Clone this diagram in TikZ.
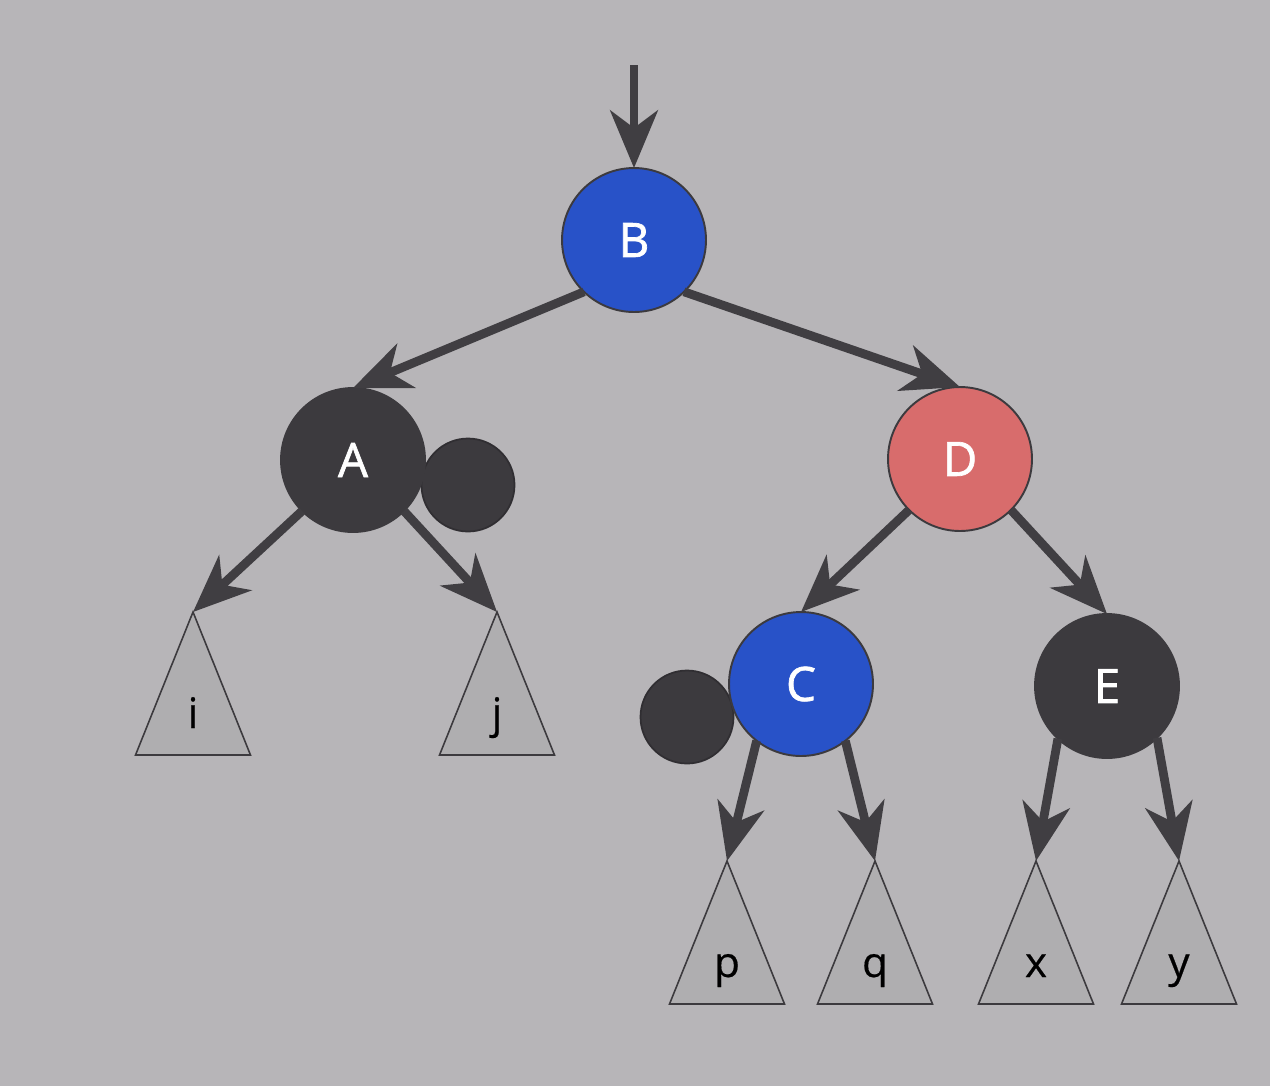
\documentclass[tikz,border=0pt]{standalone}
\usepackage{fontspec}
\setmainfont{Open Sans}
\newfontfamily\nodefont{Open Sans}[FakeBold=1.4]
\newfontfamily\leaffont{Open Sans}[FakeBold=0.4]
\usetikzlibrary{arrows.meta}
\definecolor{bg}{HTML}{B7B5B8}
\definecolor{tri}{HTML}{AFAEB0}
\definecolor{dark}{HTML}{3C3A3E}
\definecolor{edge}{HTML}{403E42}
\definecolor{blu}{HTML}{2852C8}
\definecolor{sal}{HTML}{D86C6C}
\tikzset{
  rb/.style={circle, minimum size=2.88cm, inner sep=0pt, outer sep=0pt, draw=dark, line width=1.1pt, text=white, font=\nodefont\fontsize{27}{31}\selectfont},
  blacknode/.style={rb, fill=dark},
  bluenode/.style={rb, fill=blu},
  rednode/.style={rb, fill=sal},
  extra/.style={circle, minimum size=1.86cm, inner sep=0pt, outer sep=0pt, draw=dark!80!black, line width=1pt, fill=dark},
  subtree/.style={draw=dark, line width=0.9pt, fill=tri, line join=miter},
  lbl/.style={anchor=base, text=black, font=\leaffont\fontsize{24}{28}\selectfont, inner sep=0pt},
  link/.style={draw=edge, line width=5pt, -{Stealth[length=1.15cm, width=0.95cm, inset=0.35cm]}, shorten >=0pt},
}
\begin{document}
\begin{tikzpicture}[x=0.02cm, y=-0.02cm]
  \fill[bg] (0,0) rectangle (1270,1086);
  \useasboundingbox (0,0) rectangle (1270,1086);

  % extra black circles (behind the nodes)
  \node[extra] (xa) at (468,485) {};
  \node[extra] (xc) at (687,717) {};

  % nodes
  \node[bluenode]  (B) at (634,240) {B};
  \node[blacknode] (A) at (353,460) {A};
  \node[rednode]   (D) at (960,459) {D};
  \node[bluenode]  (C) at (801,684) {C};
  \node[blacknode] (E) at (1107,686) {E};

  % subtrees
  \foreach \n/\x/\b/\t in {i/193/755/i, j/497/755/j, p/727/1004/p, q/875/1004/q, x/1036/1004/x, y/1179/1004/y}{
    \coordinate (t\n) at (\x,\b-143);
    \draw[subtree] (t\n) -- (\x+57.5,\b) -- (\x-57.5,\b) -- cycle;
    \node[lbl] (l\n) at (\x,\b-27) {\t};
  }

  % root pointer
  \coordinate (top) at (634,65);
  \draw[link] (top) -- (B.north);

  % edges
  \draw[link] (B.226) -- (A.north);
  \draw[link] (B.-46) -- (D.north);
  \draw[link] (A.225) -- (ti);
  \draw[link] (A.-45) -- (tj);
  \draw[link] (D.225) -- (C.north);
  \draw[link] (D.-45) -- (E.north);
  \draw[link] (C.232) -- (tp);
  \draw[link] (C.-52) -- (tq);
  \draw[link] (E.227) -- (tx);
  \draw[link] (E.-46) -- (ty);
\end{tikzpicture}
\end{document}
